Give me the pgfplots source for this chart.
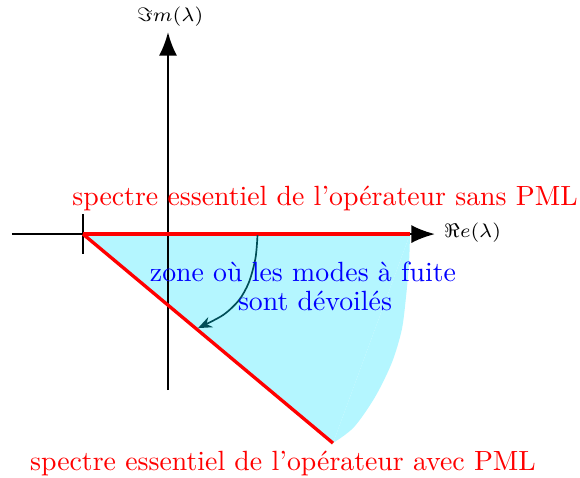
\documentclass[border=0pt]{standalone}
\usepackage{pgfplots}
\pgfplotsset{compat=1.18}
\usetikzlibrary{arrows.meta}
\definecolor{arrteal}{RGB}{0,78,88}
\definecolor{zonecyan}{RGB}{180,246,255}
\begin{document}
\begin{tikzpicture}
% coordinates are in pixels of the 580x477 reference, y going down
\begin{axis}[width=208.6pt, height=171.6pt, scale only axis,
  xmin=0, xmax=580, ymin=0, ymax=477, y dir=reverse,
  axis lines=none, ticks=none, clip=false]
% zone where leaky modes are revealed
\addplot[fill=zonecyan, draw=none] coordinates {(83,234) (410,234) (333,443) (83,234)} -- cycle;
\addplot[fill=zonecyan, draw=none, smooth] coordinates {(410,234) (409,263) (406,297) (401.7,330) (391.7,363) (375,397) (354,427) (333,443)} -- cycle;
% axes
\addplot[black, thick, -{Latex[length=8.5pt,width=6.5pt]}] coordinates {(12,234) (435,234)};
\addplot[black, thick, -{Latex[length=8.5pt,width=6.5pt]}] coordinates {(168,390) (168,32)};
\addplot[black, thick] coordinates {(83,214) (83,254)};
% essential spectra
\addplot[red, line width=1.2pt] coordinates {(83,234) (410,234)};
\addplot[red, line width=1.2pt] coordinates {(83,234) (333,443)};
% rotation arrow
\addplot[arrteal, semithick, smooth, -{Stealth[length=5pt,width=4pt]}] coordinates {(257.5,235) (255.5,258) (249,282) (239,300) (223,315) (198,328)};
\node[font=\fontsize{7.3}{9}\selectfont, anchor=west] at (axis cs:434,233) {$\Re e(\lambda)$};
\node[font=\fontsize{7.3}{9}\selectfont] at (axis cs:170,17) {$\Im m(\lambda)$};
\node[text=red] at (axis cs:325,198) {spectre essentiel de l’opérateur sans PML};
\node[text=red] at (axis cs:283,463) {spectre essentiel de l’opérateur avec PML};
\node[text=blue] at (axis cs:303,272) {zone où les modes à fuite};
\node[text=blue] at (axis cs:315,301) {sont dévoilés};
\end{axis}
\pgfresetboundingbox
\path[use as bounding box] (current axis.south west) rectangle (current axis.north east);
\end{tikzpicture}
\end{document}
